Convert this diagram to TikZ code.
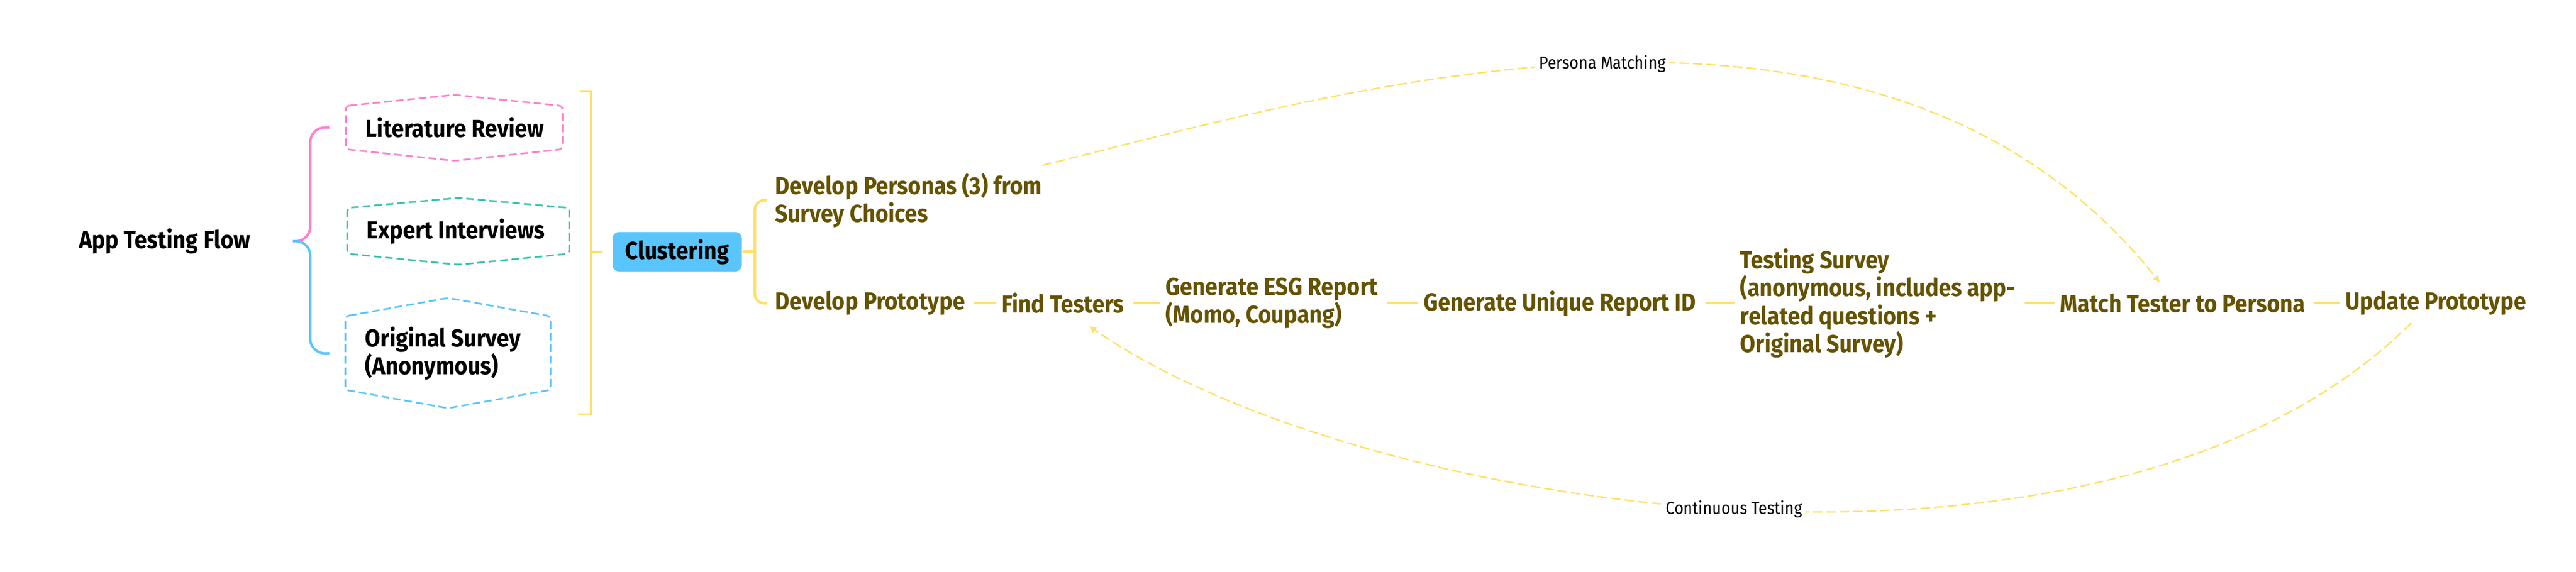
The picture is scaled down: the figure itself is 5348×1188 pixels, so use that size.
\documentclass[tikz,border=0pt]{standalone}
\usepackage{fontspec}
\setmainfont{Fira Sans}[FakeStretch=0.91]
\usetikzlibrary{arrows.meta,positioning,calc}
\definecolor{mmyellow}{HTML}{FFE066}
\definecolor{mmolive}{HTML}{665300}
\definecolor{mmpink}{HTML}{FF80CC}
\definecolor{mmteal}{HTML}{36C6AC}
\definecolor{mmblue}{HTML}{5AC5FC}
\tikzset{>=latex,
  topic/.style={font=\fontsize{10.2}{11.6}\selectfont\bfseries, align=left, inner sep=0pt},
  sub/.style={topic, text=mmolive, anchor=west},
  hexline/.style={dash pattern=on 3.2pt off 1.6pt, line width=0.7pt, rounded corners=1.6pt},
  conn/.style={mmyellow, line width=1pt, shorten <=3.6pt, shorten >=2pt},
  relation/.style={mmyellow, line width=0.6pt, dash pattern=on 4pt off 1.6pt, -{Latex[length=3pt,width=3pt]}},
  rellabel/.style={fill=white, text=black, font=\fontsize{7.2}{8.6}\selectfont, inner sep=1.5pt}
}

\begin{document}
\begin{tikzpicture}[x=0.2pt,y=-0.2pt]
  \useasboundingbox (0,0) rectangle (5348,1188);
  % left part
  \node[topic] (flow) at (342,501) {App Testing Flow};
  \node[topic, anchor=west] (lit) at (758,265) {Literature Review};
  \node[topic, anchor=west] (expert) at (760,481) {Expert Interviews};
  \node[topic, anchor=west] (orig) at (757,734) {Original Survey\\(Anonymous)};
  \foreach \col/\l/\r/\a/\b/\c/\d in {mmpink/718/1168/197/220/310/334, mmteal/721/1182/411/432/527/550, mmblue/717/1143/619/657/810/848}
    \draw[hexline,\col] (\l,\b) -- ({(\l+\r)/2},\a) -- (\r,\b) -- (\r,\c) -- ({(\l+\r)/2},\d) -- (\l,\c) -- cycle;
  \coordinate[right=17.4pt of flow] (fork);
  \draw[mmpink, line width=1pt, rounded corners=6pt] (fork) -- ++(7.2pt,0) |- ([xshift=-14.8pt]lit.west);
  \draw[mmblue, line width=1pt, rounded corners=6pt] (fork) -- ++(7.2pt,0) |- ([xshift=-14.6pt]orig.west);
  \node[topic, fill=mmblue, rounded corners=2.6pt, minimum width=53.6pt, minimum height=16.4pt, align=center] (clus) at (1406,523) {Clustering};
  \draw[mmyellow, line width=0.8pt] (1203,189) -- (1227,189) -- (1227,861) -- (1200,861);
  \draw[mmyellow, line width=0.8pt] (1227,523) -- ([xshift=-4pt]clus.west);
  % right part
  \node[sub] (persona) at (1608,416) {Develop Personas (3) from\\Survey Choices};
  \node[sub] (proto) at (1608,630) {Develop Prototype};
  \node[sub] (testers) at (2079,630) {Find Testers};
  \node[sub] (esg) at (2419,630) {Generate ESG Report\\(Momo, Coupang)};
  \node[sub] (reportid) at (2955,630) {Generate Unique Report ID};
  \node[sub] (tsurvey) at (3612,630) {Testing Survey\\(anonymous, includes app-\\related questions +\\Original Survey)};
  \node[sub] (match) at (4276,630) {Match Tester to Persona};
  \node[sub] (update) at (4868,630) {Update Prototype};
  \draw[mmyellow, line width=1.1pt] (clus.east) -- ++(5.2pt,0) coordinate (split);
  \draw[mmyellow, line width=1.1pt, rounded corners=4pt] ([xshift=-3.2pt]persona.west) -| (split) |- ([xshift=-3.2pt]proto.west);
  \foreach \a/\b in {proto/testers, testers/esg, esg/reportid, reportid/tsurvey, tsurvey/match, match/update}
    \draw[conn] (\a.east) -- (\b.west);
  % relations
  \draw[relation] ([shift={(0,-15)}]persona.north east) .. controls (2761,197) and (3894,-154) .. ([shift={(-47,-22)}]match.north)
    node[pos=0.5, rellabel] {Persona Matching};
  \draw[relation] ([shift={(-51,15)}]update.south) .. controls (4366,1309) and (2812,1062) .. ([shift={(54,25)}]testers.south)
    node[pos=0.5, rellabel] {Continuous Testing};
\end{tikzpicture}
\end{document}
